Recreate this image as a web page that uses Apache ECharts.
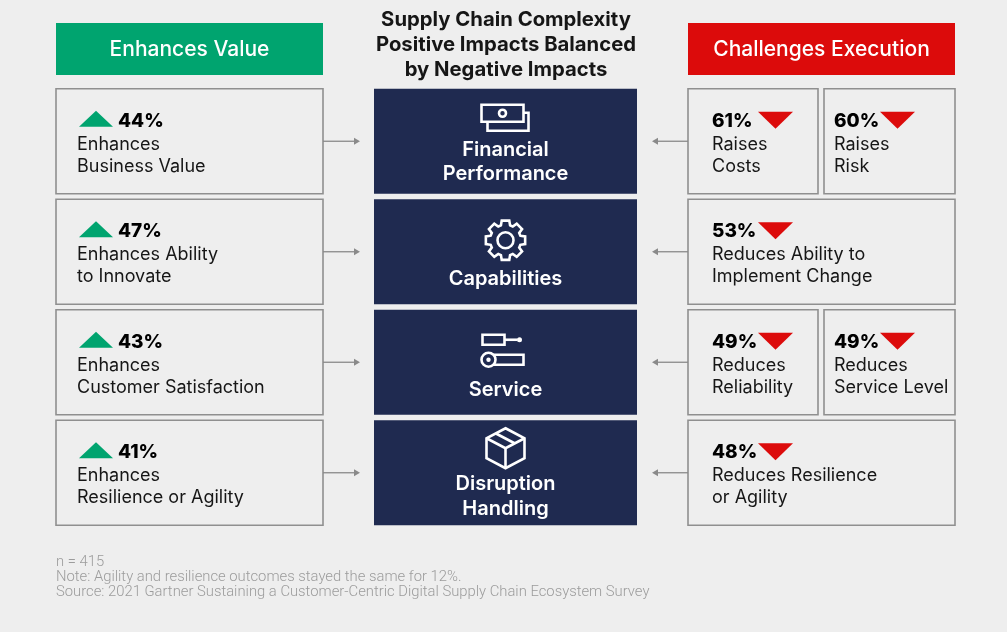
<!DOCTYPE html>
<html><head><meta charset="utf-8">
<script src="https://cdn.jsdelivr.net/npm/echarts@6/dist/echarts.min.js"></script>
<style>html,body{margin:0;padding:0;background:#eeeeee;}#c{width:1007px;height:632px;}</style>
</head><body><div id="c"></div>
<script>
// ---- data ----
const rows = ['Financial Performance', 'Capabilities', 'Service', 'Disruption Handling'];
const centerLabels = ['Financial\nPerformance', 'Capabilities', 'Service', 'Disruption\nHandling'];
const positiveValues = [44, 47, 43, 41];
const positiveLabels = ['Enhances\nBusiness Value', 'Enhances Ability\nto Innovate', 'Enhances\nCustomer Satisfaction', 'Enhances\nResilience or Agility'];
const negativeRows = [0, 0, 1, 2, 2, 3];
const negativeValues = [61, 60, 53, 49, 49, 48];
const negativeLabels = ['Raises\nCosts', 'Raises\nRisk', 'Reduces Ability to\nImplement Change', 'Reduces\nReliability', 'Reduces\nService Level', 'Reduces Resilience\nor Agility'];
const titleLines = ['Supply Chain Complexity', 'Positive Impacts Balanced', 'by Negative Impacts'];
const headerLeft = 'Enhances Value';
const headerRight = 'Challenges Execution';
const footLines = ['n = 415', 'Note: Agility and resilience outcomes stayed the same for 12%.', 'Source: 2021 Gartner Sustaining a Customer-Centric Digital Supply Chain Ecosystem Survey'];

// ---- styles ----
const FONT = 'Inter, "Noto Sans", sans-serif';
const BG = '#eeeeee', NAVY = '#1f2a50', GREEN = '#00a46f', RED = '#dc0b0b', BORDER = '#8f8f8f', INK = '#161616', ARROW = '#8a8a8a';

function txt(x, y, t, size, weight, fill, align) {
  return { type: 'text', style: { x: x, y: y, text: t, fontSize: size, fontWeight: weight, fontFamily: FONT, fill: fill, align: align || 'left', verticalAlign: 'middle' } };
}
function boxRect(x, y, w, h) {
  return { type: 'rect', shape: { x: x, y: y, width: w, height: h }, style: { fill: BG, stroke: BORDER, lineWidth: 1.6 } };
}
function arrow(x1, x2, y) {
  const dir = x2 > x1 ? 1 : -1;
  return [
    { type: 'line', shape: { x1: x1, y1: y, x2: x2 - dir * 5, y2: y }, style: { stroke: ARROW, lineWidth: 1.3 } },
    { type: 'polygon', shape: { points: [[x2, y], [x2 - dir * 6, y - 3.5], [x2 - dir * 6, y + 3.5]] }, style: { fill: ARROW } }
  ];
}

// negative slot layout derived from how many items share a row
const negCount = {}, negPos = [];
negativeRows.forEach(function (r) { negPos.push(negCount[r] || 0); negCount[r] = (negCount[r] || 0) + 1; });

const BOX_H = 105;
function rowGeom(api, row) {
  const c = api.coord([0, row]);
  return { cy: c[1], top: c[1] - BOX_H / 2 };
}
function X(api, v, row) { return api.coord([v, row])[0]; }

function renderLeft(params, api) {
  const row = api.value(0), v = api.value(1);
  const g = rowGeom(api, row), top = g.top;
  const xl = X(api, 56, row), xr = X(api, 323, row);
  const lines = positiveLabels[row].split('\n');
  const ch = [boxRect(xl, top, xr - xl, BOX_H)];
  ch.push({ type: 'polygon', shape: { points: [[xl + 23, top + 38], [xl + 40, top + 22], [xl + 57, top + 38]] }, style: { fill: GREEN } });
  ch.push(txt(xl + 62, top + 32.5, v + '%', 19, 800, '#000'));
  lines.forEach(function (l, i) { ch.push(txt(xl + 21, top + 55.5 + i * 22, l, 18, 400, INK)); });
  arrow(xr, X(api, 360, row), g.cy).forEach(function (e) { ch.push(e); });
  return { type: 'group', children: ch };
}

function gearPoints(cx, cy) {
  const pts = [], R = 20, r = 15.5, n = 8;
  for (let k = 0; k < n; k++) {
    const a = k * 2 * Math.PI / n;
    [[-0.30, r], [-0.19, R], [0.19, R], [0.30, r]].forEach(function (p) {
      pts.push([cx + p[1] * Math.cos(a + p[0]), cy + p[1] * Math.sin(a + p[0])]);
    });
  }
  return pts;
}

function icon(row, cx, cy) {
  const S = { stroke: '#fff', lineWidth: 2.6, fill: NAVY };
  const SN = { stroke: '#fff', lineWidth: 2.6, fill: 'none' };
  if (row === 0) {
    return [
      { type: 'rect', shape: { x: cx - 18, y: cy - 5, width: 41, height: 18 }, style: S },
      { type: 'rect', shape: { x: cx - 24, y: cy - 13, width: 42, height: 17 }, style: S },
      { type: 'circle', shape: { cx: cx - 3, cy: cy - 4.5, r: 3.5 }, style: SN }
    ];
  }
  if (row === 1) {
    return [
      { type: 'polygon', shape: { points: gearPoints(cx, cy) }, style: SN },
      { type: 'circle', shape: { cx: cx, cy: cy, r: 8 }, style: SN }
    ];
  }
  if (row === 2) {
    return [
      { type: 'rect', shape: { x: cx - 23, y: cy - 16, width: 22, height: 10 }, style: SN },
      { type: 'line', shape: { x1: cx - 1, y1: cy - 11, x2: cx + 12, y2: cy - 11 }, style: SN },
      { type: 'circle', shape: { cx: cx + 14, cy: cy - 11, r: 2.5 }, style: { fill: '#fff' } },
      { type: 'rect', shape: { x: cx - 12, y: cy + 4, width: 30, height: 10 }, style: SN },
      { type: 'circle', shape: { cx: cx - 17, cy: cy + 9, r: 7 }, style: S },
      { type: 'circle', shape: { cx: cx - 17, cy: cy + 9, r: 2.2 }, style: { fill: '#fff' } }
    ];
  }
  return [
    { type: 'polygon', shape: { points: [[cx, cy - 20], [cx + 19, cy - 10], [cx + 19, cy + 10], [cx, cy + 20], [cx - 19, cy + 10], [cx - 19, cy - 10]] }, style: SN },
    { type: 'polyline', shape: { points: [[cx - 19, cy - 10], [cx, cy], [cx + 19, cy - 10]] }, style: SN },
    { type: 'line', shape: { x1: cx, y1: cy, x2: cx, y2: cy + 20 }, style: SN },
    { type: 'line', shape: { x1: cx - 10, y1: cy - 15, x2: cx + 9, y2: cy - 5 }, style: SN }
  ];
}

// vertical offsets (from box top) of icon centre and first text line per row
const ICON_OFF = [29, 41, 41, 28];
const TEXT_OFF = [61, 80, 80, 64];

function renderCenter(params, api) {
  const row = api.value(0);
  const g = rowGeom(api, row), top = g.top;
  const xl = X(api, 374, row), xr = X(api, 637, row), cx = (xl + xr) / 2;
  const lines = centerLabels[row].split('\n');
  const ch = [{ type: 'rect', shape: { x: xl, y: top, width: xr - xl, height: BOX_H }, style: { fill: NAVY } }];
  icon(row, cx, top + ICON_OFF[row]).forEach(function (e) { ch.push(e); });
  lines.forEach(function (l, i) {
    ch.push(txt(cx, top + TEXT_OFF[row] + i * 24.5, l, 20, 600, '#fff', 'center'));
  });
  return { type: 'group', children: ch };
}

function renderRight(params, api) {
  const idx = params.dataIndex;
  const row = api.value(0), v = api.value(1);
  const g = rowGeom(api, row), top = g.top;
  const n = negCount[row], pos = negPos[idx];
  let x0 = 688, x1 = 955, tx = 712;
  if (n === 2) {
    if (pos === 0) { x1 = 818; } else { x0 = 824; tx = 834; }
  }
  const xl = X(api, x0, row), xr = X(api, x1, row), xt = X(api, tx, row);
  const ch = [boxRect(xl, top, xr - xl, BOX_H)];
  ch.push(txt(xt, top + 32.5, v + '%', 19, 800, '#000'));
  ch.push({ type: 'polygon', shape: { points: [[xt + 46, top + 23], [xt + 81, top + 23], [xt + 63.5, top + 40]] }, style: { fill: RED } });
  negativeLabels[idx].split('\n').forEach(function (l, i) { ch.push(txt(xt, top + 55.5 + i * 22, l, 18, 400, INK)); });
  if (pos === 0) arrow(xl, X(api, 652, row), g.cy).forEach(function (e) { ch.push(e); });
  return { type: 'group', children: ch };
}

const graphics = [
  { type: 'rect', shape: { x: 56, y: 23, width: 267, height: 52 }, style: { fill: GREEN } },
  { type: 'rect', shape: { x: 688, y: 23, width: 267, height: 52 }, style: { fill: RED } },
  txt(189.5, 50, headerLeft, 21, 500, '#fff', 'center'),
  txt(821.5, 50, headerRight, 21, 500, '#fff', 'center')
];
titleLines.forEach(function (l, i) { graphics.push(txt(506, 19.5 + i * 25, l, 20.3, 700, INK, 'center')); });
footLines.forEach(function (l, i) {
  const t = txt(56, 562.5 + i * 15, l, 14.8, 300, '#9c9c9c');
  t.style.fontFamily = 'Roboto, sans-serif';
  graphics.push(t);
});

const chart = echarts.init(document.getElementById('c'));
chart.setOption({
  backgroundColor: BG,
  animation: false,
  grid: { left: 0, top: 86, width: 1007, height: 442 },
  xAxis: { type: 'value', min: 0, max: 1007, show: false },
  yAxis: { type: 'category', data: rows, inverse: true, show: false },
  graphic: graphics.map(function (g) { return Object.assign({ silent: true }, g); }),
  series: [
    { type: 'custom', name: 'Enhances Value', renderItem: renderLeft, data: positiveValues.map(function (v, i) { return [i, v]; }) },
    { type: 'custom', name: 'Area', renderItem: renderCenter, data: rows.map(function (r, i) { return [i]; }) },
    { type: 'custom', name: 'Challenges Execution', renderItem: renderRight, data: negativeValues.map(function (v, i) { return [negativeRows[i], v]; }) }
  ]
});
</script></body></html>
